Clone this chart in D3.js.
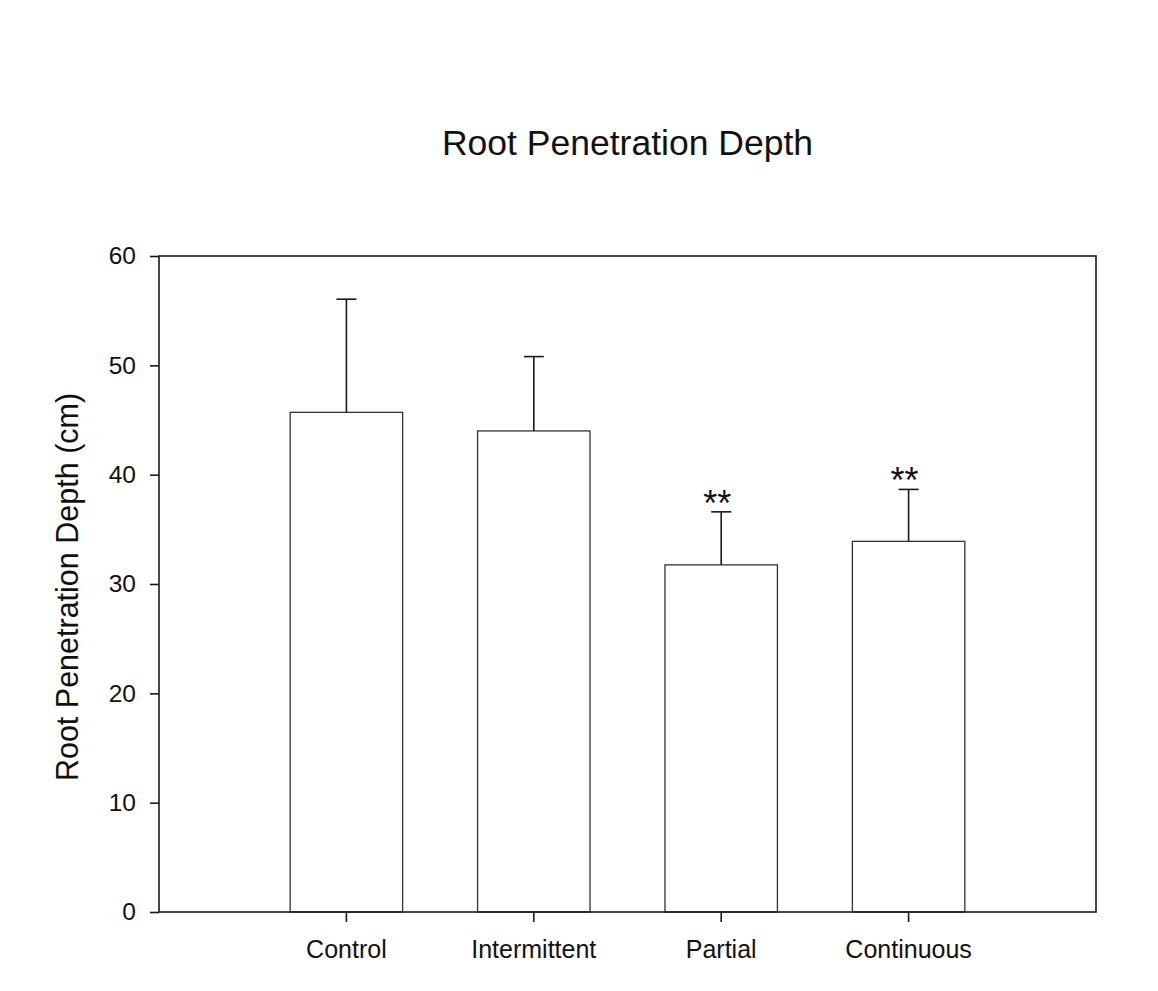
<!DOCTYPE html>
<html>
<head>
<meta charset="utf-8">
<script src="https://cdn.jsdelivr.net/npm/d3@7"></script>
<style>
  html, body { margin: 0; padding: 0; background: #ffffff; }
  svg { display: block; font-family: "Liberation Sans", Arial, sans-serif; }
</style>
</head>
<body>
<svg id="chart" width="1158" height="991"></svg>
<script>
// Treatment groups and their mean root penetration depth (cm) with standard error
const categories = ["Control", "Intermittent", "Partial", "Continuous"];
const means = [45.7, 44.0, 31.75, 33.9];
const errors = [10.35, 6.8, 4.85, 4.75];
const significance = ["", "", "**", "**"];
const yTicks = [0, 10, 20, 30, 40, 50, 60];

const svg = d3.select("#chart");
const plot = { left: 159, right: 1096, top: 256, bottom: 912 };
const slot = (plot.right - plot.left) / 5;

const x = d3.scaleBand()
  .domain(categories)
  .range([plot.left + slot / 2, plot.right - slot / 2])
  .paddingInner(0.4)
  .paddingOuter(0.2);

const y = d3.scaleLinear()
  .domain([0, 60])
  .range([plot.bottom, plot.top]);

const ink = "#1a1a1a";

// Title
svg.append("text")
  .attr("x", (plot.left + plot.right) / 2)
  .attr("y", 155)
  .attr("text-anchor", "middle")
  .attr("font-size", 35.5)
  .attr("fill", "#111")
  .text("Root Penetration Depth");

// Bars
svg.append("g").selectAll("rect")
  .data(categories)
  .join("rect")
  .attr("x", d => x(d))
  .attr("y", (d, i) => y(means[i]))
  .attr("width", x.bandwidth())
  .attr("height", (d, i) => y(0) - y(means[i]))
  .attr("fill", "#ffffff")
  .attr("stroke", "#333")
  .attr("stroke-width", 1.3);

// Upper error bars
const eb = svg.append("g").attr("stroke", ink).attr("stroke-width", 1.6);
categories.forEach((c, i) => {
  const cx = x(c) + x.bandwidth() / 2;
  eb.append("line")
    .attr("x1", cx).attr("x2", cx)
    .attr("y1", y(means[i])).attr("y2", y(means[i] + errors[i]));
  eb.append("line")
    .attr("x1", cx - 10).attr("x2", cx + 10)
    .attr("y1", y(means[i] + errors[i])).attr("y2", y(means[i] + errors[i]));
});

// Significance markers
svg.append("g").selectAll("text")
  .data(categories)
  .join("text")
  .attr("x", d => x(d) + x.bandwidth() / 2 - 4)
  .attr("y", (d, i) => y(means[i] + errors[i]) + 4)
  .attr("text-anchor", "middle")
  .attr("font-size", 36)
  .attr("fill", "#111")
  .text((d, i) => significance[i]);

// Plot frame
svg.append("rect")
  .attr("x", plot.left)
  .attr("y", plot.top)
  .attr("width", plot.right - plot.left)
  .attr("height", plot.bottom - plot.top)
  .attr("fill", "none")
  .attr("stroke", ink)
  .attr("stroke-width", 1.6);

// Y axis
const yAxis = svg.append("g")
  .attr("transform", `translate(${plot.left},0)`)
  .call(d3.axisLeft(y).tickValues(yTicks).tickSize(9).tickPadding(14));
yAxis.select(".domain").remove();
yAxis.selectAll(".tick line").attr("stroke", ink).attr("stroke-width", 1.6);
yAxis.selectAll(".tick text")
  .attr("font-size", 24.5)
  .attr("font-family", "Liberation Sans, Arial, sans-serif")
  .attr("fill", "#111");

// X axis
const xAxis = svg.append("g")
  .attr("transform", `translate(0,${plot.bottom})`)
  .call(d3.axisBottom(x).tickSize(10).tickPadding(18));
xAxis.select(".domain").remove();
xAxis.selectAll(".tick line").attr("stroke", ink).attr("stroke-width", 1.6);
xAxis.selectAll(".tick text")
  .attr("font-size", 25)
  .attr("font-family", "Liberation Sans, Arial, sans-serif")
  .attr("fill", "#111");

// Y axis title
svg.append("text")
  .attr("transform", `translate(78,${(plot.top + plot.bottom) / 2 + 3}) rotate(-90)`)
  .attr("text-anchor", "middle")
  .attr("font-size", 30.5)
  .attr("fill", "#111")
  .text("Root Penetration Depth (cm)");
</script>
</body>
</html>
